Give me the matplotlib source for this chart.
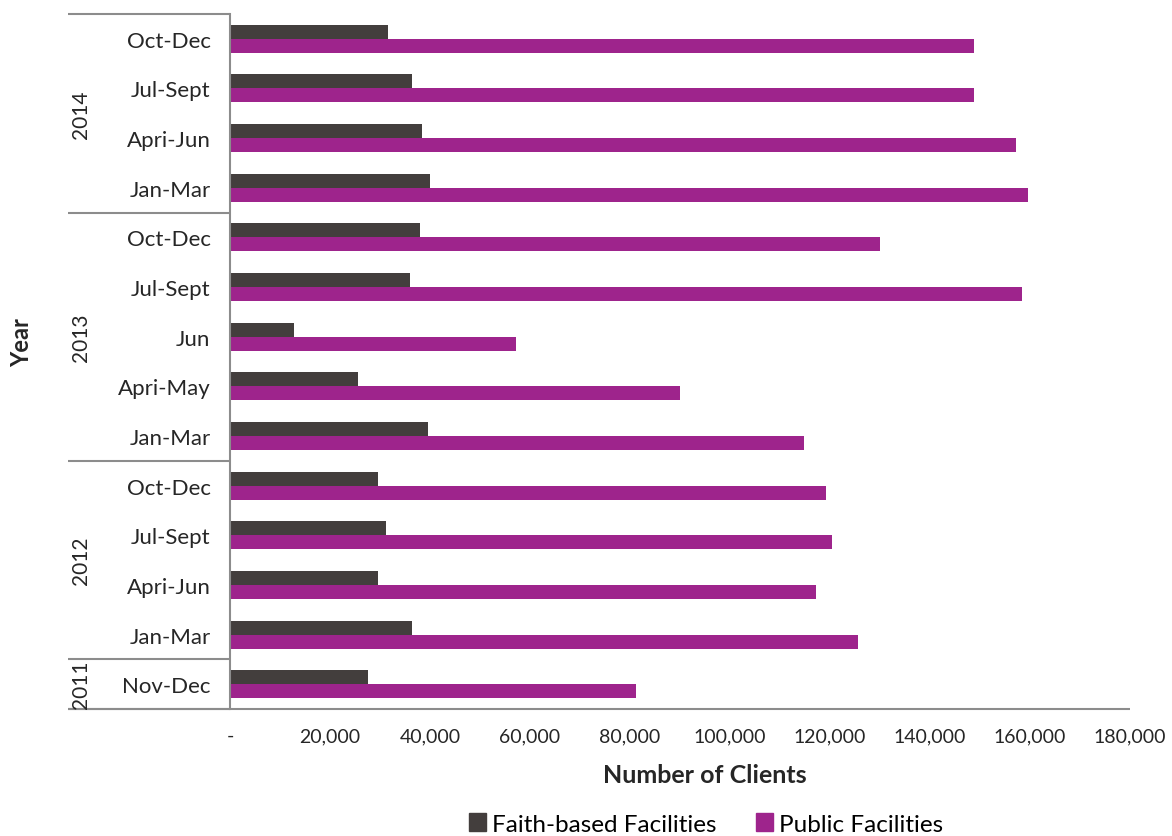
import matplotlib.pyplot as plt
import matplotlib.transforms as mtransforms
from matplotlib.patches import Patch
import numpy as np

# Quarterly client counts, newest first (top of the chart)
periods = ['Oct-Dec', 'Jul-Sept', 'Apri-Jun', 'Jan-Mar',
           'Oct-Dec', 'Jul-Sept', 'Jun', 'Apri-May', 'Jan-Mar',
           'Oct-Dec', 'Jul-Sept', 'Apri-Jun', 'Jan-Mar',
           'Nov-Dec']
years = ['2014', '2013', '2012', '2011']
year_sizes = [4, 5, 4, 1]

faith_based = [31600, 36400, 38400, 40000,
               38000, 36000, 12800, 25600, 39600,
               29600, 31200, 29600, 36400,
               27600]
public = [148800, 148800, 157200, 159600,
          130000, 158400, 57200, 90000, 114800,
          119200, 120400, 117200, 125600,
          81200]

x_ticks = list(range(0, 180001, 20000))

FAITH_COLOR = '#433e3d'
PUBLIC_COLOR = '#9e248c'
AXIS_COLOR = '#8c8c8c'
TEXT_COLOR = '#262626'

plt.rcParams['font.family'] = ['Lato', 'DejaVu Sans']

fig = plt.figure(figsize=(11.72, 8.37), dpi=100)
W, H = 1172, 837
ax = fig.add_axes([230 / W, (H - 710) / H, 900 / W, 695 / H])

y = np.arange(len(periods))
h = 0.282
ax.barh(y - h / 2, faith_based, height=h, color=FAITH_COLOR, label='Faith-based Facilities')
ax.barh(y + h / 2, public, height=h, color=PUBLIC_COLOR, label='Public Facilities')

ax.set_ylim(len(periods) - 0.5, -0.5)
ax.set_xlim(0, 180000)

# x axis: "-" for zero, thousands separators elsewhere
ax.set_xticks(x_ticks)
ax.set_xticklabels(['-' if v == 0 else f'{v:,}' for v in x_ticks],
                   fontsize=14, color=TEXT_COLOR)
ax.tick_params(axis='x', length=0, pad=13)

ax.set_yticks(y)
ax.set_yticklabels(periods, fontsize=16, color=TEXT_COLOR)
ax.tick_params(axis='y', length=0, pad=14)

for side in ['top', 'right', 'bottom']:
    ax.spines[side].set_visible(False)
ax.spines['left'].set_color(AXIS_COLOR)
ax.spines['left'].set_linewidth(1.5)

# two-level category axis: year group boxes to the left of the bars
trans = mtransforms.blended_transform_factory(ax.transAxes, ax.transData)
x_left = (68 - 230) / 900
edges = np.concatenate([[0], np.cumsum(year_sizes)]) - 0.5
for e in edges:
    ax.plot([x_left, 0], [e, e], transform=trans, color=AXIS_COLOR,
            lw=1.5, clip_on=False, solid_capstyle='butt')
# bottom axis line runs under the year column as well
ax.plot([x_left, 1], [edges[-1], edges[-1]], transform=trans, color=AXIS_COLOR,
        lw=1.5, clip_on=False, solid_capstyle='butt')
x_year = (81 - 230) / 900
for yr, lo, hi in zip(years, edges[:-1], edges[1:]):
    ax.text(x_year, (lo + hi) / 2, yr, transform=trans, rotation=90,
            ha='center', va='center', fontsize=15, color=TEXT_COLOR)

fig.text(705 / W, 1 - 776 / H, 'Number of Clients', ha='center', va='center',
         fontsize=18, fontweight='bold', color=TEXT_COLOR)
fig.text(22 / W, 1 - 343 / H, 'Year', ha='center', va='center', rotation=90,
         fontsize=17, fontweight='bold', color=TEXT_COLOR)

handles = [Patch(color=FAITH_COLOR, label='Faith-based Facilities'),
           Patch(color=PUBLIC_COLOR, label='Public Facilities')]
fig.legend(handles=handles, loc='center', bbox_to_anchor=(706 / W, 1 - 825 / H),
           ncol=2, frameon=False, handlelength=0.7, handleheight=0.7,
           handletextpad=0.25, columnspacing=1.6,
           prop={'size': 17.5})

fig.savefig('out.png', dpi=100)
